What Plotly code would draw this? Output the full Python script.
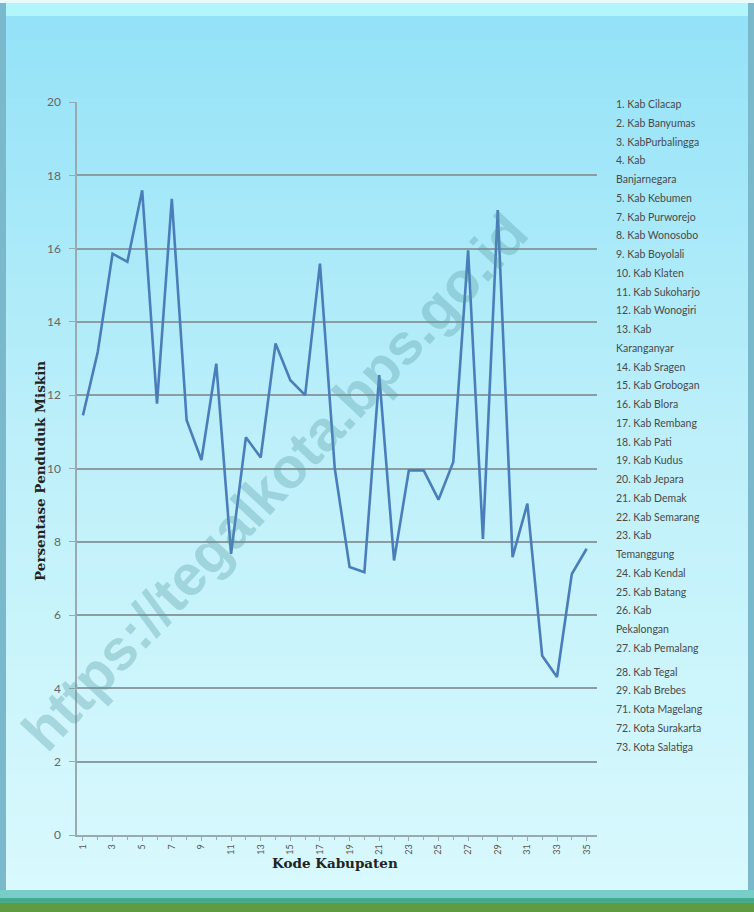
import plotly.graph_objects as go

# data
kode = list(range(1, 36))
persentase = [11.45, 13.18, 15.86, 15.64, 17.59, 11.77, 17.36, 11.32, 10.23, 12.86,
              7.67, 10.85, 10.30, 13.41, 12.41, 12.00, 15.59, 10.00, 7.31, 7.17,
              12.55, 7.49, 9.95, 9.95, 9.15, 10.18, 15.95, 8.08, 17.05, 7.58,
              9.04, 4.89, 4.31, 7.12, 7.81]

y_ticks = [0, 2, 4, 6, 8, 10, 12, 14, 16, 18, 20]
x_ticks = list(range(1, 36, 2))

daftar = ["1. Kab Cilacap", "2. Kab Banyumas", "3. KabPurbalingga", "4. Kab",
          "Banjarnegara", "5. Kab Kebumen", "7. Kab Purworejo", "8. Kab Wonosobo",
          "9. Kab Boyolali", "10. Kab Klaten", "11. Kab Sukoharjo", "12. Kab Wonogiri",
          "13. Kab", "Karanganyar", "14. Kab Sragen", "15. Kab Grobogan",
          "16. Kab Blora", "17. Kab Rembang", "18. Kab Pati", "19. Kab Kudus",
          "20. Kab Jepara", "21. Kab Demak", "22. Kab Semarang", "23. Kab",
          "Temanggung", "24. Kab Kendal", "25. Kab Batang", "26. Kab",
          "Pekalongan", "27. Kab Pemalang", "28. Kab Tegal", "29. Kab Brebes",
          "71. Kota Magelang", "72. Kota Surakarta", "73. Kota Salatiga"]

W, H = 754, 912
L, R, T, B = 77, 597, 102, 835


def px(x):
    return (x - L) / (R - L)


def py(y):
    return (B - y) / (B - T)


def mix(c1, c2, t):
    return "rgb(%d,%d,%d)" % tuple(round(a + (b - a) * t) for a, b in zip(c1, c2))


shapes = []
# background gradient in bands
top_c, mid_c, bot_c = (148, 226, 248), (190, 240, 250), (216, 249, 253)
n = 60
for i in range(n):
    y0 = 10 + i * (890 - 10) / n
    y1 = 10 + (i + 1) * (890 - 10) / n
    t = i / (n - 1)
    c = mix(top_c, mid_c, t * 2) if t < 0.5 else mix(mid_c, bot_c, (t - 0.5) * 2)
    shapes.append(dict(type="rect", xref="paper", yref="paper", layer="below",
                       x0=px(0), x1=px(W), y0=py(y1 + 1), y1=py(y0),
                       fillcolor=c, line_width=0))
# top light strip
shapes.append(dict(type="rect", xref="paper", yref="paper", layer="below",
                   x0=px(0), x1=px(W), y0=py(16), y1=py(3),
                   fillcolor="rgb(178,245,251)", line_width=0))
shapes.append(dict(type="rect", xref="paper", yref="paper", layer="below",
                   x0=px(0), x1=px(W), y0=py(3), y1=py(0),
                   fillcolor="rgb(232,250,252)", line_width=0))
# side borders
for x0, x1 in [(0, 6), (748, 754)]:
    shapes.append(dict(type="rect", xref="paper", yref="paper", layer="below",
                       x0=px(x0), x1=px(x1), y0=py(H), y1=py(3),
                       fillcolor="rgb(122,184,204)", line_width=0))
# bottom green bar
for y0, y1, c in [(890, 898, "rgb(120,205,200)"), (898, 903, "rgb(70,170,140)"),
                  (903, 912, "rgb(95,155,65)")]:
    shapes.append(dict(type="rect", xref="paper", yref="paper", layer="below",
                       x0=px(0), x1=px(W), y0=py(y1), y1=py(y0),
                       fillcolor=c, line_width=0))

fig = go.Figure()
fig.add_trace(go.Scatter(x=kode, y=persentase, mode="lines",
                         line=dict(color="#4a7ebb", width=2.6), showlegend=False))

annotations = []
# right-hand list
ly = 104
for i, s in enumerate(daftar):
    if s.startswith("28."):
        ly += 5
    annotations.append(dict(text=s, xref="paper", yref="paper", x=px(614), y=py(ly),
                            xanchor="left", yanchor="middle", showarrow=False,
                            font=dict(family="Lato", size=10.5, color="#4a4a4a")))
    ly += 18.75

annotations.append(dict(text="<b>Persentase Penduduk Miskin</b>", xref="paper", yref="paper",
                        x=px(30), y=py(471), textangle=-90, showarrow=False,
                        font=dict(family="DejaVu Serif", size=13.5, color="#222")))
annotations.append(dict(text="<b>Kode Kabupaten</b>", xref="paper", yref="paper",
                        x=px(335), y=py(873), showarrow=False,
                        font=dict(family="DejaVu Serif", size=13.5, color="#222")))
# watermark
annotations.append(dict(text="<b>https://tegalkota.bps.go.id</b>", xref="paper", yref="paper",
                        x=px(274), y=py(482), textangle=-47, showarrow=False,
                        font=dict(family="Liberation Sans", size=57,
                                  color="rgba(80,150,160,0.32)")))

fig.update_layout(
    width=W, height=H,
    margin=dict(l=L, r=W - R, t=T, b=H - B),
    paper_bgcolor="white",
    plot_bgcolor="rgba(0,0,0,0)",
    shapes=shapes,
    annotations=annotations,
    xaxis=dict(range=[0.6, 35.7], tickvals=x_ticks, ticktext=[str(v) for v in x_ticks],
               tickangle=-90, showgrid=False, zeroline=False,
               showline=True, linecolor="#9aaab0", linewidth=1.5,
               ticks="outside", ticklen=4, tickcolor="#9aaab0",
               minor=dict(dtick=1, tick0=0, ticks="outside", ticklen=3, tickcolor="#9aaab0"),
               tickfont=dict(family="Lato", size=9, color="#555")),
    yaxis=dict(range=[0, 20], tickvals=y_ticks, showgrid=True, gridcolor="#8c9ca3",
               gridwidth=1.8, zeroline=False, showline=True, linecolor="#9aaab0",
               linewidth=1.5, ticks="outside", ticklen=6, tickcolor="#9aaab0",
               ticklabelstandoff=6,
               tickfont=dict(family="Lato", size=12, color="#666")),
)

fig.write_html("out.html", config={"displayModeBar": False},
               post_script="document.body.style.margin='0';")
